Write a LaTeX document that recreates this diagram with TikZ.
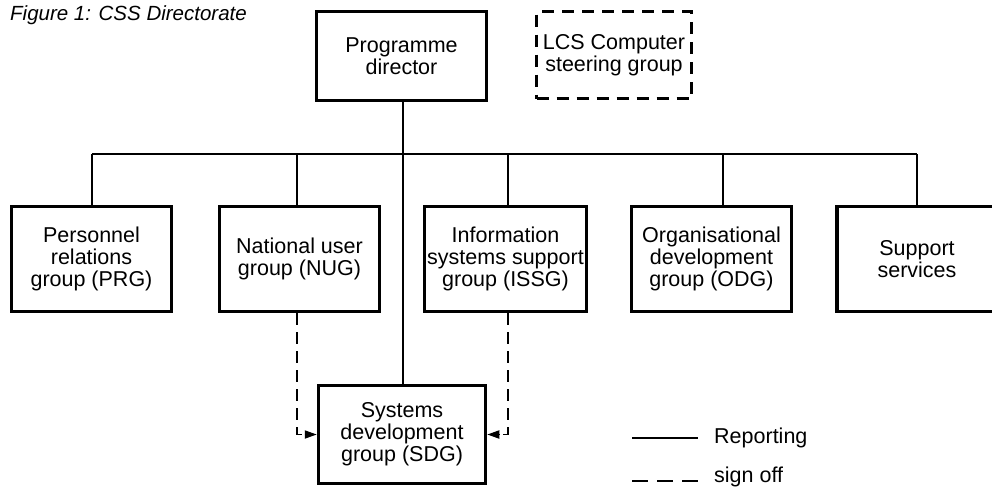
\documentclass[tikz,border=0pt]{standalone}
\usepackage{fontspec}
\setmainfont{Liberation Sans}
\usetikzlibrary{arrows.meta}
\begin{document}
\begin{tikzpicture}[x=1pt,y=-1pt,
  every node/.style={font=\fontsize{21.5}{22}\selectfont, align=center, inner sep=1pt},
  box/.style={draw, line width=3.5pt, minimum width=#1},
  rowbox/.style={box=160pt, minimum height=105pt},
  dbox/.style={draw, line width=3.2pt, dash pattern=on 12pt off 8pt},
  conn/.style={line width=1.6pt},
  sign/.style={line width=1.8pt, dash pattern=on 12pt off 7pt},
  signtip/.style={line width=1.8pt, solid, -{Triangle[length=12pt,width=8pt]}},
  legdash/.style={line width=1.8pt, dash pattern=on 16pt off 9pt}
]
\useasboundingbox (0,0) rectangle (992,488);
\clip (0,0) rectangle (992,488);
\fill[white] (0,0) rectangle (992,488);

\node[anchor=base west, font=\fontsize{20.5}{21.5}\selectfont\itshape] (title) at (9,20) {Figure 1: CSS Directorate};

\node[box=170pt, minimum height=89pt] (pd) at (401.5,56) {Programme\\director};
\node[dbox, minimum width=155pt, minimum height=87pt] (lcs) at (614,55) {LCS Computer\\steering group};

\node[rowbox] (prg) at (91.5,259) {Personnel\\relations\\group (PRG)};
\node[rowbox] (nug) at (299.5,259) {National user\\group (NUG)};
\node[rowbox, minimum width=162pt] (issg) at (505.5,259) {Information\\systems support\\group (ISSG)};
\node[rowbox] (odg) at (711.5,259) {Organisational\\development\\group (ODG)};
\node[rowbox] (sup) at (917,259) {Support\\services};

\node[box=167pt, minimum height=98pt] (sdg) at (402,434.5) {Systems\\development\\group (SDG)};

% bus
\coordinate (bl) at (92,154);
\coordinate (br) at (917,154);
\coordinate (dnug) at (297,154);
\coordinate (dissg) at (508,154);
\coordinate (dodg) at (723,154);
\coordinate (dpd) at (403,154);
\draw[conn] (bl) -- (br);
\draw[conn] (bl) -- (bl |- prg.north);
\draw[conn] (dnug) -- (dnug |- nug.north);
\draw[conn] (dissg) -- (dissg |- issg.north);
\draw[conn] (dodg) -- (dodg |- odg.north);
\draw[conn] (br) -- (br |- sup.north);
\draw[conn] (dpd |- pd.south) -- (dpd |- sdg.north);

% sign off
\coordinate (snug) at (297,313);
\coordinate (sissg) at (508,313);
\coordinate (knug) at (297,434.5);
\coordinate (kissg) at (508,434.5);
\draw[sign] (snug |- nug.south) -- (knug) -- ([xshift=-8pt]sdg.west);
\draw[signtip] ([xshift=-12pt]sdg.west) -- (sdg.west);
\draw[sign] (sissg |- issg.south) -- (kissg) -- ([xshift=8pt]sdg.east);
\draw[signtip] ([xshift=12pt]sdg.east) -- (sdg.east);

% legend
\coordinate (l1a) at (632,438);
\coordinate (l1b) at (698,438);
\coordinate (l2a) at (632,481);
\coordinate (l2b) at (698,481);
\draw[conn] (l1a) -- (l1b);
\draw[legdash] (l2a) -- (l2b);
\node[anchor=base west] (rep) at (713,443) {Reporting};
\node[anchor=base west] (so) at (713,482) {sign off};
\end{tikzpicture}
\end{document}
